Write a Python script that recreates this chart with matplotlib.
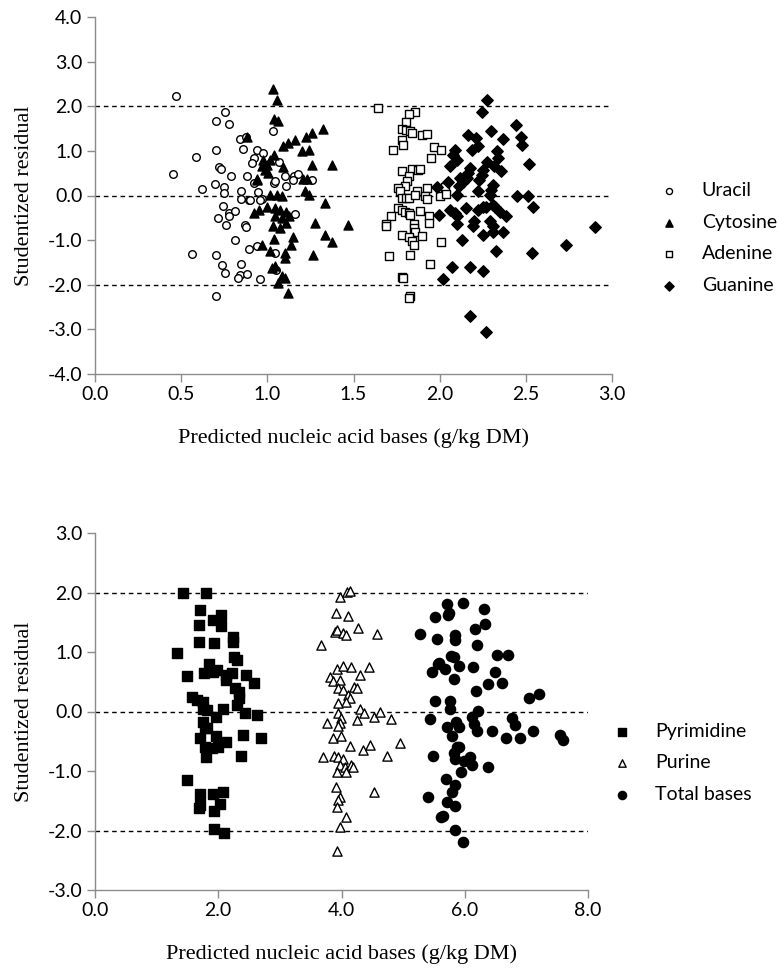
import matplotlib
matplotlib.use("Agg")
from matplotlib import pyplot as plt

# ---- top panel: individual bases ----
uracil_x = [0.47, 0.455, 0.584, 0.62, 0.754, 0.70, 0.776, 0.70, 0.72, 0.73, 0.787, 0.695, 0.75, 0.75,
            0.74, 0.714, 0.76, 0.78, 0.81, 0.78, 0.81, 0.563, 0.70, 0.735, 0.757, 0.85, 0.84, 0.88,
            0.84, 0.857, 0.88, 0.85, 0.85, 0.896, 0.872, 0.874, 0.893, 0.94, 0.94, 0.977, 0.92, 0.91,
            0.92, 0.948, 0.97, 1.03, 1.045, 1.07, 1.036, 1.05, 0.876, 1.10, 1.155, 1.18, 1.11, 1.045,
            1.26, 1.147, 1.16, 0.957, 0.90, 0.70, 0.83, 0.96]
uracil_y = [2.22, 0.48, 0.86, 0.15, 1.88, 1.67, 1.61, 1.02, 0.63, 0.60, 0.43, 0.26, 0.18, 0.05,
            -0.23, -0.50, -0.67, -0.39, -0.34, -0.47, -0.99, -1.32, -1.34, -1.55, -1.74, -1.53, -1.78, -1.76,
            1.27, 1.05, 0.44, 0.11, -0.07, -0.11, -0.67, -0.71, -1.20, -1.14, 1.02, 0.96, 0.85, 0.73,
            0.28, 0.08, -0.08, 1.44, -1.29, 0.74, 0.29, -1.68, 1.31, 0.44, 0.44, 0.49, 0.22, 0.33,
            0.35, 0.35, -0.41, -0.10, -0.10, -2.25, -1.85, -1.88]

cytosine_x = [1.035, 1.054, 1.04, 1.064, 0.88, 1.325, 1.257, 1.225, 1.16, 1.12, 1.093, 1.20, 1.244,
              1.04, 0.973, 1.016, 0.996, 0.967, 0.985, 1.005, 1.09, 1.257, 1.374, 0.942, 1.205, 1.232,
              1.22, 1.24, 1.015, 1.054, 1.083, 1.335, 0.996, 1.045, 1.074, 1.11, 0.92, 0.949, 1.045,
              1.083, 1.127, 1.277, 1.47, 1.035, 1.074, 1.11, 1.04, 1.15, 1.335, 1.374, 1.14, 0.967,
              1.016, 1.103, 1.103, 1.267, 1.025, 1.083, 1.045, 0.938, 1.12, 1.06, 1.10]
cytosine_y = [2.39, 2.13, 1.71, 1.66, 1.31, 1.49, 1.40, 1.31, 1.25, 1.17, 1.10, 0.99, 1.02,
              0.91, 0.80, 0.80, 0.69, 0.65, 0.58, 0.50, 0.64, 0.69, 0.69, 0.37, 0.37, 0.37,
              0.09, 0.02, 0.02, 0.02, -0.02, -0.16, -0.25, -0.28, -0.32, -0.36, -0.40, -0.32, -0.47,
              -0.51, -0.47, -0.62, -0.66, -0.69, -0.73, -0.62, -0.98, -0.92, -0.88, -1.05, -1.10, -1.10,
              -1.25, -1.29, -1.40, -1.33, -1.63, -1.81, -1.59, 0.35, -2.18, -1.95, -1.85]

adenine_x = [1.64, 1.857, 1.82, 1.805, 1.78, 1.805, 1.828, 1.838, 1.78, 1.79, 1.896, 1.925, 1.728,
             1.967, 2.008, 1.948, 1.78, 1.838, 1.876, 1.886, 1.82, 1.813, 1.796, 1.76, 1.77, 1.867,
             1.925, 2.03, 1.78, 1.805, 1.82, 1.857, 1.915, 1.925, 2.0, 2.037, 1.76, 1.78, 1.80, 1.82,
             1.828, 1.886, 1.72, 1.94, 1.94, 1.69, 1.69, 1.85, 1.85, 1.857, 1.78, 1.82, 1.838, 1.85,
             1.896, 2.01, 1.708, 1.828, 1.944, 1.78, 1.79, 1.828, 1.82]
adenine_y = [1.96, 1.88, 1.82, 1.64, 1.49, 1.47, 1.44, 1.40, 1.25, 1.14, 1.36, 1.38, 1.02,
             1.09, 1.02, 0.83, 0.56, 0.59, 0.58, 0.59, 0.43, 0.33, 0.22, 0.17, 0.09, 0.11,
             0.17, 0.20, -0.06, -0.06, -0.06, 0.02, -0.02, -0.08, -0.02, 0.03, -0.28, -0.32, -0.36, -0.39,
             -0.43, -0.34, -0.46, -0.46, -0.62, -0.63, -0.69, -0.63, -0.73, -0.81, -0.88, -0.92, -1.03, -1.10,
             -0.90, -1.05, -1.35, -1.33, -1.53, -1.82, -1.85, -2.25, -2.30]

guanine_x = [2.273, 2.244, 2.167, 2.21, 2.298, 2.366, 2.225, 2.186, 2.09, 2.08, 2.10, 2.33, 2.34,
             2.316, 2.355, 2.273, 2.06, 2.176, 2.167, 2.157, 2.254, 2.244, 2.23, 2.118, 2.138, 2.114,
             2.10, 2.05, 1.987, 2.31, 2.30, 2.29, 2.31, 2.32, 2.225, 2.06, 2.09, 2.10, 2.153, 2.225,
             2.254, 2.27, 1.997, 2.10, 2.20, 2.196, 2.293, 2.31, 2.31, 2.366, 2.35, 2.385, 2.254, 2.13,
             2.325, 2.07, 2.176, 2.254, 2.02, 2.176, 2.27, 2.443, 2.47, 2.476, 2.52, 2.45, 2.515, 2.54,
             2.534, 2.733, 2.90]
guanine_y = [2.15, 1.88, 1.36, 1.29, 1.44, 1.26, 1.10, 1.01, 1.01, 0.91, 0.80, 0.99, 0.84,
             0.65, 0.54, 0.76, 0.67, 0.61, 0.50, 0.39, 0.58, 0.46, 0.35, 0.39, 0.31, 0.22,
             0.02, 0.31, 0.20, 0.24, 0.13, 0.02, -0.21, -0.25, 0.09, -0.32, -0.39, -0.46, -0.28, -0.32,
             -0.25, -0.26, -0.43, -0.63, -0.58, -0.69, -0.58, -0.69, -0.81, -0.81, -0.36, -0.47, -0.88, -0.99,
             -1.24, -1.61, -1.61, -1.70, -1.87, -2.71, -3.05, 1.59, 1.31, 1.14, 0.70, 0.0, 0.0, -0.25,
             -1.29, -1.10, -0.71]

# ---- bottom panel: grouped bases ----
pyrimidine_x = [1.434, 1.80, 1.70, 2.04, 1.92, 2.04, 1.69, 2.235, 2.235, 1.69, 1.93, 1.326, 2.256,
                2.31, 1.85, 1.975, 1.50, 1.77, 1.91, 2.127, 2.22, 2.127, 2.45, 2.587, 2.27, 2.33, 2.33,
                2.31, 1.57, 1.65, 1.76, 1.76, 1.81, 1.97, 2.08, 2.435, 2.625, 1.76, 1.785, 1.81, 1.705,
                1.96, 2.127, 2.40, 2.69, 1.785, 1.894, 2.0, 1.80, 2.365, 1.49, 1.705, 1.92, 2.07, 1.705,
                1.69, 2.03, 1.93, 1.93, 2.10]
pyrimidine_y = [1.99, 1.99, 1.71, 1.62, 1.53, 1.43, 1.45, 1.25, 1.17, 1.17, 1.15, 0.98, 0.91,
                0.87, 0.80, 0.70, 0.60, 0.64, 0.67, 0.61, 0.64, 0.53, 0.61, 0.48, 0.39, 0.32, 0.22,
                0.11, 0.24, 0.19, 0.16, 0.04, 0.03, -0.09, 0.04, -0.03, -0.06, -0.17, -0.28, -0.28, -0.45,
                -0.41, -0.51, -0.40, -0.45, -0.59, -0.62, -0.60, -0.76, -0.75, -1.15, -1.39, -1.39, -1.36, -1.57,
                -1.63, -1.55, -1.67, -1.98, -2.05]

purine_x = [3.97, 4.09, 4.14, 3.91, 4.11, 3.90, 3.92, 4.02, 4.07, 4.27, 4.58, 3.67, 3.93, 4.03,
            4.16, 4.44, 3.81, 3.87, 3.97, 4.30, 3.95, 4.03, 4.21, 4.25, 4.11, 4.14, 4.07, 3.95,
            4.30, 4.37, 4.52, 4.63, 4.80, 3.95, 3.99, 3.97, 3.77, 4.25, 3.95, 3.87, 3.99, 4.14,
            4.35, 4.46, 4.95, 4.74, 3.70, 3.88, 3.95, 4.03, 3.98, 4.06, 4.15, 4.18, 3.92, 4.07,
            3.91, 3.97, 3.95, 3.92, 4.53, 4.07, 3.98, 3.92]
purine_y = [1.93, 2.01, 2.03, 1.65, 1.60, 1.34, 1.37, 1.32, 1.28, 1.41, 1.30, 1.11, 0.71, 0.76,
            0.75, 0.74, 0.58, 0.52, 0.53, 0.61, 0.39, 0.36, 0.42, 0.39, 0.28, 0.22, 0.16, 0.15,
            0.04, -0.03, -0.09, 0.0, -0.13, -0.03, -0.11, -0.19, -0.19, -0.15, -0.24, -0.45, -0.41, -0.58,
            -0.64, -0.56, -0.53, -0.75, -0.77, -0.75, -0.77, -0.79, -0.90, -0.93, -0.90, -0.94, -1.01, -1.01,
            -1.27, -1.43, -1.48, -1.61, -1.36, -1.78, -1.94, -2.35]

total_x = [5.71, 5.97, 6.31, 5.52, 5.73, 5.75, 6.33, 6.17, 5.28, 5.55, 5.84, 5.84, 6.20, 5.78,
           5.82, 6.53, 6.70, 5.59, 5.68, 5.90, 6.14, 5.47, 5.83, 6.49, 6.37, 6.60, 6.18, 7.05,
           7.20, 5.52, 5.76, 5.76, 6.21, 6.11, 5.44, 6.76, 6.82, 5.71, 5.86, 5.91, 6.15, 6.20,
           6.45, 5.79, 6.67, 6.89, 7.10, 7.55, 7.60, 5.49, 5.82, 5.87, 5.91, 5.84, 5.99, 6.09,
           6.12, 6.38, 5.94, 5.69, 5.84, 5.79, 5.41, 5.72, 5.84, 5.64, 5.84, 5.62, 5.97, 5.57]
total_y = [1.81, 1.82, 1.73, 1.58, 1.62, 1.65, 1.47, 1.38, 1.30, 1.22, 1.29, 1.20, 1.11, 0.94,
           0.91, 0.95, 0.95, 0.81, 0.71, 0.77, 0.75, 0.67, 0.54, 0.67, 0.47, 0.48, 0.35, 0.23,
           0.29, 0.18, 0.18, 0.04, 0.01, -0.09, -0.13, -0.11, -0.23, -0.26, -0.17, -0.26, -0.21, -0.32,
           -0.33, -0.42, -0.45, -0.45, -0.33, -0.39, -0.48, -0.74, -0.70, -0.59, -0.59, -0.79, -0.84, -0.77,
           -0.90, -0.93, -1.02, -1.13, -1.24, -1.36, -1.44, -1.52, -1.59, -1.75, -1.99, -1.78, -2.20, 0.80]

top_xticks = [0.0, 0.5, 1.0, 1.5, 2.0, 2.5, 3.0]
top_yticks = [-4.0, -3.0, -2.0, -1.0, 0.0, 1.0, 2.0, 3.0, 4.0]
bottom_xticks = [0.0, 2.0, 4.0, 6.0, 8.0]
bottom_yticks = [-3.0, -2.0, -1.0, 0.0, 1.0, 2.0, 3.0]
ref_lines = [-2.0, 0.0, 2.0]

x_label = "Predicted nucleic acid bases (g/kg DM)"
y_label = "Studentized residual"

tick_font = "Lato"
label_font = "Liberation Serif"
axis_grey = "#8c8c8c"


def style_axes(ax, xticks, yticks):
    ax.set_xlim(xticks[0], xticks[-1])
    ax.set_ylim(yticks[0], yticks[-1])
    ax.set_xticks(xticks)
    ax.set_yticks(yticks)
    ax.set_xticklabels([f"{t:.1f}" for t in xticks], fontfamily=tick_font, fontsize=14)
    ax.set_yticklabels([f"{t:.1f}" for t in yticks], fontfamily=tick_font, fontsize=14)
    for side in ("top", "right"):
        ax.spines[side].set_visible(False)
    for side in ("left", "bottom"):
        ax.spines[side].set_color(axis_grey)
        ax.spines[side].set_linewidth(1.0)
    ax.tick_params(direction="out", length=6, width=1, color=axis_grey, pad=3)
    for y in ref_lines:
        ax.axhline(y, color="black", linestyle=(0, (3.3, 2.7)), linewidth=1.0, zorder=1)
    ax.set_xlabel(x_label, fontfamily=label_font, fontsize=16, labelpad=18)
    ax.set_ylabel(y_label, fontfamily=label_font, fontsize=16, labelpad=10)


def add_legend(ax, x_px, y_px):
    ax.legend(loc="center left", bbox_to_anchor=(x_px / 778, 1 - y_px / 968),
              bbox_transform=fig.transFigure, frameon=False, markerscale=0.8,
              borderpad=0, borderaxespad=0, handlelength=1.0, handletextpad=1.2,
              labelspacing=0.75, prop={"family": tick_font, "size": 14})


fig = plt.figure(figsize=(7.78, 9.68), dpi=100)

ax1 = fig.add_axes([95 / 778, 1 - 374 / 968, 517 / 778, 357 / 968])
ax1.scatter(uracil_x, uracil_y, s=30, marker="o", facecolors="white", edgecolors="black",
            linewidths=1.0, label="Uracil", zorder=3)
ax1.scatter(cytosine_x, cytosine_y, s=42, marker="^", color="black", label="Cytosine", zorder=3)
ax1.scatter(adenine_x, adenine_y, s=32, marker="s", facecolors="white", edgecolors="black",
            linewidths=1.0, label="Adenine", zorder=3)
ax1.scatter(guanine_x, guanine_y, s=34, marker="D", color="black", label="Guanine", zorder=3)
style_axes(ax1, top_xticks, top_yticks)
add_legend(ax1, 659, 238)

ax2 = fig.add_axes([95 / 778, 1 - 890 / 968, 493 / 778, 357 / 968])
ax2.scatter(pyrimidine_x, pyrimidine_y, s=46, marker="s", color="black", label="Pyrimidine", zorder=3)
ax2.scatter(purine_x, purine_y, s=44, marker="^", facecolors="white", edgecolors="black",
            linewidths=1.0, label="Purine", zorder=3)
ax2.scatter(total_x, total_y, s=54, marker="o", color="black", label="Total bases", zorder=3)
style_axes(ax2, bottom_xticks, bottom_yticks)
add_legend(ax2, 612, 763)

fig.savefig("out.png", dpi=100)
